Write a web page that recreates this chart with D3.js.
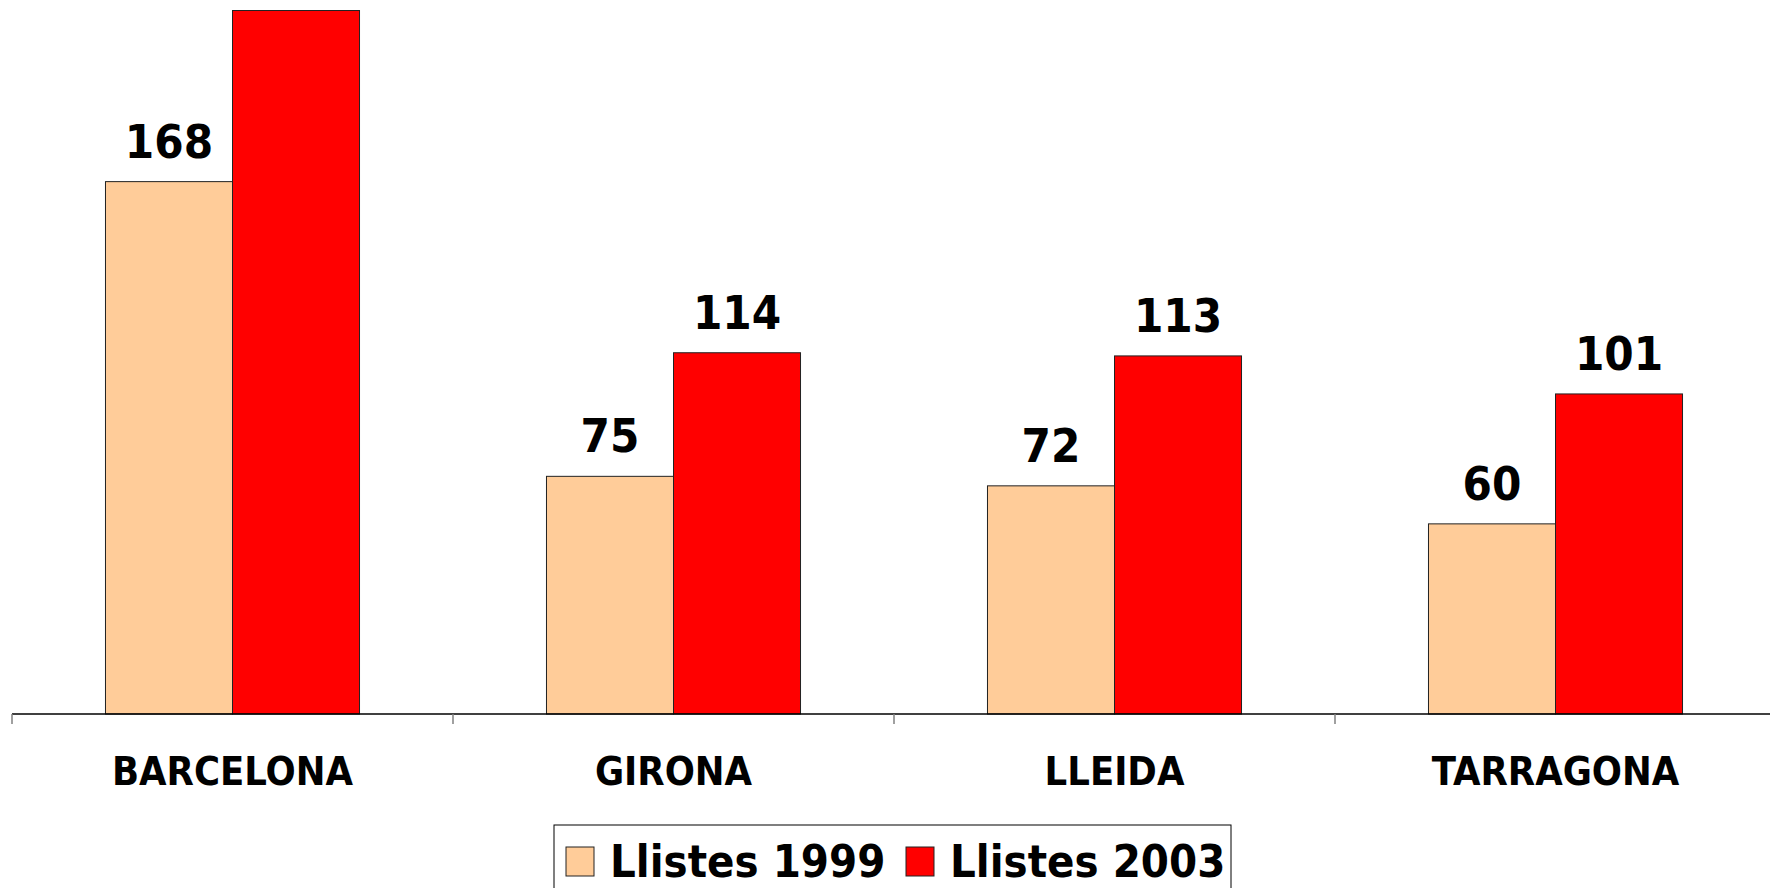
<!DOCTYPE html>
<html>
<head>
<meta charset="utf-8">
<script src="https://cdn.jsdelivr.net/npm/d3@7"></script>
<style>
  body { margin: 0; background: #fff; }
  text { font-family: 'DejaVu Sans Condensed', 'DejaVu Sans', sans-serif; font-stretch: condensed; font-weight: bold; }
</style>
</head>
<body>
<div class="canvas"></div>
<script>
const categories = ['BARCELONA', 'GIRONA', 'LLEIDA', 'TARRAGONA']
const series = ['Llistes 1999', 'Llistes 2003']
const values1999 = [168, 75, 72, 60]
const values2003 = [222, 114, 113, 101]
const colors = ['#FFCC99', '#FF0000']

const data = categories.map((c, i) => ({ name: c, values: [values1999[i], values2003[i]] }))

const width = 1770
const height = 888
const baseline = 714

const svg = d3.select('.canvas').append('svg')
  .attr('width', width)
  .attr('height', height)

const x = d3.scaleBand()
  .domain(categories)
  .range([12, 12 + 441 * categories.length])

const xInner = d3.scaleBand()
  .domain(series)
  .range([0, x.bandwidth()])
  .paddingInner(0)
  .paddingOuter(0.736)

const y = d3.scaleLinear()
  .domain([0, 225])
  .range([baseline, 1])

const groups = svg.selectAll('g.cat')
  .data(data)
  .enter().append('g')
  .attr('class', 'cat')
  .attr('transform', d => `translate(${x(d.name)},0)`)

groups.selectAll('rect')
  .data(d => d.values.map((v, i) => ({ key: series[i], v, i })))
  .enter().append('rect')
  .attr('x', d => xInner(d.key))
  .attr('y', d => y(d.v))
  .attr('width', xInner.bandwidth())
  .attr('height', d => baseline - y(d.v))
  .attr('fill', d => colors[d.i])
  .attr('stroke', '#222')
  .attr('stroke-width', 1)

// value labels above each bar (the tallest one falls off the top, as in the original)
groups.selectAll('text.val')
  .data(d => d.values.map((v, i) => ({ key: series[i], v, i })))
  .enter().append('text')
  .attr('class', 'val')
  .attr('x', d => xInner(d.key) + xInner.bandwidth() / 2)
  .attr('y', d => y(d.v) - 24)
  .attr('text-anchor', 'middle')
  .attr('font-size', 47)
  .text(d => d.v)

// category axis: line plus ticks on band edges
svg.append('line')
  .attr('x1', 12).attr('x2', width)
  .attr('y1', baseline).attr('y2', baseline)
  .attr('stroke', '#000').attr('stroke-width', 1.5)

svg.selectAll('line.tick')
  .data(categories.concat(['end']))
  .enter().append('line')
  .attr('class', 'tick')
  .attr('x1', d => d === 'end' ? x.range()[1] : x(d))
  .attr('x2', d => d === 'end' ? x.range()[1] : x(d))
  .attr('y1', baseline).attr('y2', baseline + 10)
  .attr('stroke', '#808080').attr('stroke-width', 1.5)

svg.selectAll('text.cat')
  .data(categories)
  .enter().append('text')
  .attr('class', 'cat')
  .attr('x', d => x(d) + x.bandwidth() / 2)
  .attr('y', 785)
  .attr('text-anchor', 'middle')
  .attr('font-size', 39.5)
  .text(d => d)

// legend
const legend = svg.append('g')
legend.append('rect')
  .attr('x', 554).attr('y', 825)
  .attr('width', 677).attr('height', 100)
  .attr('fill', '#fff').attr('stroke', '#000').attr('stroke-width', 1)

const legendX = [566, 906]
series.forEach((s, i) => {
  legend.append('rect')
    .attr('x', legendX[i]).attr('y', 847)
    .attr('width', 28).attr('height', 29)
    .attr('fill', colors[i]).attr('stroke', '#222')
  legend.append('text')
    .attr('x', legendX[i] + 44).attr('y', 877)
    .attr('font-size', 45)
    .text(s)
})
</script>
</body>
</html>
